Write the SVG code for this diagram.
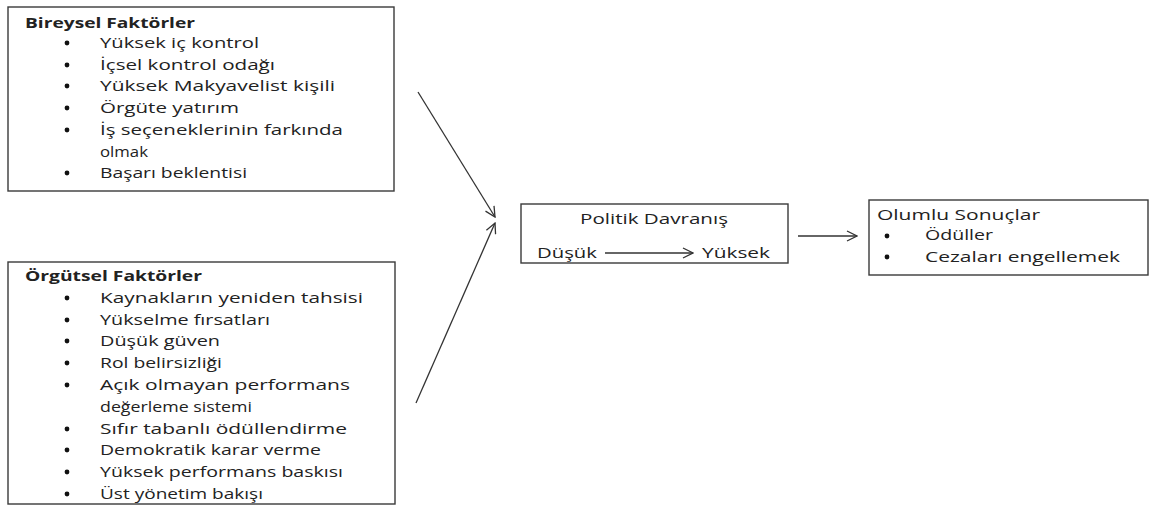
<svg xmlns="http://www.w3.org/2000/svg" width="1150" height="506" viewBox="0 0 1150 506">
<style>
.box{fill:#fff;stroke:#3a3a3a;stroke-width:1.4}
.t{font-family:"Open Sans","Liberation Sans",sans-serif;font-size:15px;fill:#222}
.b{font-weight:bold}
.dot{fill:#111}
.conn{stroke:#333;stroke-width:1.3;fill:none}
</style>
<defs>
<marker id="arr" viewBox="0 0 12 12" markerWidth="12" markerHeight="12" refX="11" refY="6" orient="auto" markerUnits="userSpaceOnUse">
<path d="M1,1 L11,6 L1,11" fill="none" stroke="#333" stroke-width="1.3"/>
</marker>
</defs>
<rect width="1150" height="506" fill="#fff"/>

<g id="bireysel">
<rect class="box" x="8" y="7" width="386" height="184"/>
<text class="t b" x="25" y="28" textLength="170" lengthAdjust="spacingAndGlyphs">Bireysel Faktörler</text>
<circle class="dot" cx="67" cy="43" r="2.4"/><text class="t" x="100" y="48" textLength="159" lengthAdjust="spacingAndGlyphs">Yüksek iç kontrol</text>
<circle class="dot" cx="67" cy="65" r="2.4"/><text class="t" x="100" y="70" textLength="175" lengthAdjust="spacingAndGlyphs">İçsel kontrol odağı</text>
<circle class="dot" cx="67" cy="86" r="2.4"/><text class="t" x="100" y="91" textLength="235" lengthAdjust="spacingAndGlyphs">Yüksek Makyavelist kişili</text>
<circle class="dot" cx="67" cy="108" r="2.4"/><text class="t" x="100" y="113" textLength="139" lengthAdjust="spacingAndGlyphs">Örgüte yatırım</text>
<circle class="dot" cx="67" cy="130" r="2.4"/><text class="t" x="100" y="135" textLength="243" lengthAdjust="spacingAndGlyphs">İş seçeneklerinin farkında</text>
<text class="t" x="100" y="157" textLength="48" lengthAdjust="spacingAndGlyphs">olmak</text>
<circle class="dot" cx="67" cy="173" r="2.4"/><text class="t" x="100" y="178" textLength="147" lengthAdjust="spacingAndGlyphs">Başarı beklentisi</text>
</g>

<g id="orgutsel">
<rect class="box" x="8" y="262" width="387" height="242"/>
<text class="t b" x="25" y="281" textLength="177" lengthAdjust="spacingAndGlyphs">Örgütsel Faktörler</text>
<circle class="dot" cx="67" cy="298" r="2.4"/><text class="t" x="100" y="303" textLength="263" lengthAdjust="spacingAndGlyphs">Kaynakların yeniden tahsisi</text>
<circle class="dot" cx="67" cy="320" r="2.4"/><text class="t" x="100" y="325" textLength="170" lengthAdjust="spacingAndGlyphs">Yükselme fırsatları</text>
<circle class="dot" cx="67" cy="341" r="2.4"/><text class="t" x="100" y="346" textLength="120" lengthAdjust="spacingAndGlyphs">Düşük güven</text>
<circle class="dot" cx="67" cy="363" r="2.4"/><text class="t" x="100" y="368" textLength="122" lengthAdjust="spacingAndGlyphs">Rol belirsizliği</text>
<circle class="dot" cx="67" cy="385" r="2.4"/><text class="t" x="100" y="390" textLength="250" lengthAdjust="spacingAndGlyphs">Açık olmayan performans</text>
<text class="t" x="100" y="412" textLength="152" lengthAdjust="spacingAndGlyphs">değerleme sistemi</text>
<circle class="dot" cx="67" cy="429" r="2.4"/><text class="t" x="100" y="434" textLength="247" lengthAdjust="spacingAndGlyphs">Sıfır tabanlı ödüllendirme</text>
<circle class="dot" cx="67" cy="450" r="2.4"/><text class="t" x="100" y="455" textLength="221" lengthAdjust="spacingAndGlyphs">Demokratik karar verme</text>
<circle class="dot" cx="67" cy="472" r="2.4"/><text class="t" x="100" y="477" textLength="243" lengthAdjust="spacingAndGlyphs">Yüksek performans baskısı</text>
<circle class="dot" cx="67" cy="494" r="2.4"/><text class="t" x="100" y="499" textLength="163" lengthAdjust="spacingAndGlyphs">Üst yönetim bakışı</text>
</g>

<g id="politik">
<rect class="box" x="521" y="204" width="267" height="59"/>
<text class="t" x="580" y="224" textLength="148" lengthAdjust="spacingAndGlyphs">Politik Davranış</text>
<text class="t" x="537" y="258" textLength="60" lengthAdjust="spacingAndGlyphs">Düşük</text>
<line class="conn" x1="605" y1="253" x2="693" y2="253" marker-end="url(#arr)"/>
<text class="t" x="702" y="258" textLength="68" lengthAdjust="spacingAndGlyphs">Yüksek</text>
</g>

<g id="olumlu">
<rect class="box" x="869" y="200" width="279" height="75"/>
<text class="t" x="877" y="220" textLength="163" lengthAdjust="spacingAndGlyphs">Olumlu Sonuçlar</text>
<circle class="dot" cx="887" cy="236" r="2.4"/><text class="t" x="925" y="240" textLength="68" lengthAdjust="spacingAndGlyphs">Ödüller</text>
<circle class="dot" cx="887" cy="257" r="2.4"/><text class="t" x="925" y="262" textLength="195" lengthAdjust="spacingAndGlyphs">Cezaları engellemek</text>
</g>

<g id="connectors">
<line class="conn" x1="418" y1="92" x2="495" y2="217" marker-end="url(#arr)"/>
<line class="conn" x1="416" y1="403" x2="495" y2="223" marker-end="url(#arr)"/>
<line class="conn" x1="798" y1="236" x2="857" y2="236" marker-end="url(#arr)"/>
</g>
</svg>
